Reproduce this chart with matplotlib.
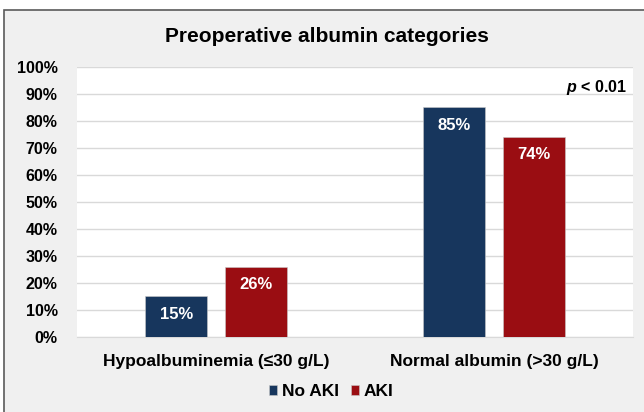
import matplotlib
matplotlib.use("Agg")
import matplotlib.pyplot as plt
from matplotlib.patches import Rectangle
import numpy as np

categories = ["Hypoalbuminemia (≤30 g/L)", "Normal albumin (>30 g/L)"]
series_names = ["No AKI", "AKI"]
no_aki = [15, 85]
aki = [26, 74]
yticks = [0, 10, 20, 30, 40, 50, 60, 70, 80, 90, 100]

colors = ["#17365d", "#9a0d12"]

plt.rcParams['font.family'] = ['Liberation Sans', 'DejaVu Sans']
plt.rcParams['mathtext.fontset'] = 'custom'
plt.rcParams['mathtext.bfit'] = 'Liberation Sans:italic:bold'

fig = plt.figure(figsize=(6.44, 4.12), dpi=100)
fig.patch.set_facecolor("white")
bg = Rectangle((4/644, -0.1), 1.2, 1 - 10/412 + 0.1, transform=fig.transFigure,
               facecolor="#f0f0f0", edgecolor="#5a5a5a", linewidth=1.2, zorder=-10)
fig.patches.append(bg)

ax = fig.add_axes([77/644, 1 - 337/412, (633 - 77)/644, (337 - 66.7)/412])
ax.set_facecolor("white")

x = np.arange(len(categories))
w = 0.223
off = 0.143
for vals, name, c, o in [(no_aki, series_names[0], colors[0], -off), (aki, series_names[1], colors[1], off)]:
    bars = ax.bar(x + o, vals, width=w, color=c, label=name, zorder=3,
                  edgecolor="#c8c8c8", linewidth=0.4)
    for b, v in zip(bars, vals):
        ax.text(b.get_x() + b.get_width()/2, v - 6.6, f"{v}%", ha="center", va="center",
                color="white", fontsize=12, fontweight="bold", zorder=4)

ax.set_xlim(-0.5, 1.5)
ax.set_ylim(0, 100)
ax.set_yticks(yticks)
ax.set_yticklabels([f"{t}%" for t in yticks], fontsize=11.5, fontweight="bold")
ax.set_xticks(x)
ax.set_xticklabels(categories, fontsize=12.5, fontweight="bold")
ax.tick_params(axis="y", length=0, pad=14)
ax.tick_params(axis="x", length=0, pad=12)
ax.grid(axis="y", color="#d9d9d9", linewidth=1.0, zorder=0)
ax.set_axisbelow(True)
for s in ["top", "right", "left"]:
    ax.spines[s].set_visible(False)
ax.spines["bottom"].set_color("#d9d9d9")

ax.text(0.99, 0.96, r"$\mathbfit{p}$ < 0.01", transform=ax.transAxes, ha="right", va="top",
        fontsize=11.5, fontweight="bold")

fig.text(327/644, 1 - 37/412, "Preoperative albumin categories", ha="center", va="center",
         fontsize=15, fontweight="bold")

leg = ax.legend(loc="center", bbox_to_anchor=(331/644, 1 - 392/412), bbox_transform=fig.transFigure,
                ncol=2, frameon=False, handlelength=0.5, handleheight=0.5, handletextpad=0.25,
                columnspacing=0.7, prop={"weight": "bold", "size": 12.5})

fig.savefig("out.png", dpi=100)
